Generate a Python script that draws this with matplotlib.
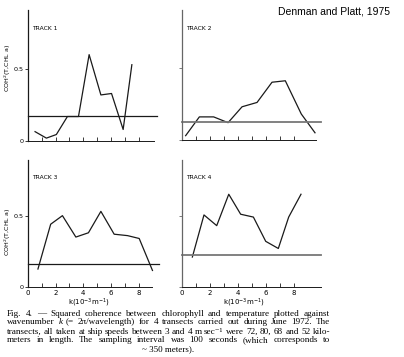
import matplotlib
matplotlib.use("Agg")
import matplotlib.pyplot as plt

# ---- data ----
k1 = [0.51, 1.33, 2.05, 2.85, 3.65, 4.42, 5.27, 6.04, 6.88, 7.51]
c1 = [0.065, 0.02, 0.045, 0.17, 0.17, 0.60, 0.32, 0.33, 0.08, 0.53]
k2 = [0.26, 1.24, 2.26, 3.29, 4.29, 5.36, 6.43, 7.38, 8.52, 9.5]
c2 = [0.03, 0.16, 0.16, 0.12, 0.23, 0.26, 0.40, 0.41, 0.18, 0.05]
k3 = [0.72, 1.64, 2.49, 3.46, 4.37, 5.27, 6.23, 7.2, 8.04, 9.0]
c3 = [0.126, 0.44, 0.50, 0.35, 0.38, 0.53, 0.37, 0.36, 0.34, 0.116]
k4 = [0.74, 1.57, 2.48, 3.34, 4.19, 5.1, 5.98, 6.88, 7.62, 8.5]
c4 = [0.21, 0.505, 0.43, 0.65, 0.51, 0.49, 0.32, 0.27, 0.49, 0.65]
signif = [0.176, 0.127, 0.158, 0.226]
tracks = ["TRACK 1", "TRACK 2", "TRACK 3", "TRACK 4"]
xtick_labels = ["0", "2", "4", "6", "8"]
ylabel = "COH$^2$(T,CHL a)"
xlabel = "k(10$^{-3}$m$^{-1}$)"
credit = "Denman and Platt, 1975"
caption = [
    "Fig. 4. \u2014 Squared coherence between chlorophyll and temperature plotted against",
    "wavenumber k (= 2\u03c0/wavelength) for 4 transects carried out during June 1972. The",
    "transects, all taken at ship speeds between 3 and 4 m sec\u207b\u00b9 were 72, 80, 68 and 52 kilo-",
    "meters in length. The sampling interval was 100 seconds (which corresponds to",
    "~ 350 meters).",
]

W, H = 404, 357
fig = plt.figure(figsize=(W / 100, H / 100), dpi=100)
fig.patch.set_facecolor("white")

def px_axes(left, top, right, bottom):
    return fig.add_axes([left / W, 1 - bottom / H, (right - left) / W, (bottom - top) / H])

# panel geometry in pixels: left, top, right, bottom; xlim max; spine end; ylim max
panels = [
    (28, 10, 158, 141, 9.4, 9.1, 0.91, k1, c1, 157),
    (182, 10, 322, 140, 10.0, 9.6, 0.90, k2, c2, 321),
    (28, 160, 158, 287, 9.4, 9.0, 0.89, k3, c3, 159),
    (182, 160, 322, 287, 10.0, 9.9, 0.89, k4, c4, 321),
]
col = "#1a1a1a"
for i, (l, t, r, b, xm, xe, ym, kk, cc, hr) in enumerate(panels):
    ax = px_axes(l, t, r, b)
    ax.set_xlim(0, xm)
    ax.set_ylim(0, ym)
    ax.patch.set_alpha(0)
    for s in ["top", "right"]:
        ax.spines[s].set_visible(False)
    lc = col if i % 2 == 0 else "#666666"
    ax.spines["left"].set_color(lc)
    ax.spines["bottom"].set_color(col)
    ax.spines["left"].set_linewidth(0.9)
    ax.spines["bottom"].set_linewidth(0.7)
    ax.spines["bottom"].set_bounds(0, xe)
    ax.plot(kk, cc, color=col, lw=0.9, clip_on=False)
    hx = (hr - l) / (r - l) * xm
    hc = col if i % 2 == 0 else "#777777"
    hw = 0.9 if i % 2 == 0 else 1.3
    ax.plot([0, hx], [signif[i], signif[i]], color=hc, lw=hw, clip_on=False)
    ax.set_xticks(range(0, 9))
    ax.tick_params(axis="x", direction="in", length=3, width=0.6, color=col, pad=2)
    if i >= 2:
        ax.set_xticklabels([xtick_labels[j // 2] if j % 2 == 0 else "" for j in range(9)],
                           fontsize=5, family="DejaVu Sans")
        cx = l + (4.4 / xm) * (r - l)
        fig.text(cx / W, 1 - 303 / H, xlabel, ha="center", va="center",
                 fontsize=5, family="DejaVu Sans")
    else:
        ax.set_xticklabels([])
    ax.set_yticks([0, 0.5])
    ax.tick_params(axis="y", direction="out", length=2.5, width=0.6, color=lc, pad=1.0)
    if i % 2 == 0:
        ax.set_yticklabels(["0", "0.5"], fontsize=4.6, family="DejaVu Sans")
        cy = 68 if i == 0 else 232
        fig.text(8 / W, 1 - cy / H, ylabel, rotation=90, ha="center", va="center",
                 fontsize=4.6, family="DejaVu Sans")
    else:
        ax.set_yticklabels([])
    ax.text(0.3, ym * 0.86, tracks[i], fontsize=4.3, family="DejaVu Sans", ha="left", va="center")

fig.text(390 / W, 1 - 11 / H, credit, ha="right", va="center", fontsize=7.5,
         family="Liberation Sans")

# justified caption
fig.canvas.draw()
renderer = fig.canvas.get_renderer()
ys = [313.5, 322.5, 331.5, 340.5, 349.5]
x_left, x_right = 7, 330
for j, line in enumerate(caption):
    y = 1 - ys[j] / H
    if j == 4:
        fig.text(168 / W, y, line, ha="center", va="center", fontsize=6.5,
                 family=["Liberation Serif", "DejaVu Serif"])
        continue
    words = line.split(" ")
    fs = 6.6
    while True:
        arts = [fig.text(0, y, w, ha="left", va="center", fontsize=fs,
                         family=["Liberation Serif", "DejaVu Serif"],
                         style=("italic" if w == "k" else "normal")) for w in words]
        widths = [a.get_window_extent(renderer).width for a in arts]
        gap = (x_right - x_left - sum(widths)) / (len(words) - 1)
        if gap >= 2.0 or fs < 5:
            break
        for a in arts:
            a.remove()
        fs -= 0.1
    x = x_left
    for a, w in zip(arts, widths):
        a.set_x(x / W)
        x += w + gap

fig.savefig("out.png", dpi=100, facecolor="white")
